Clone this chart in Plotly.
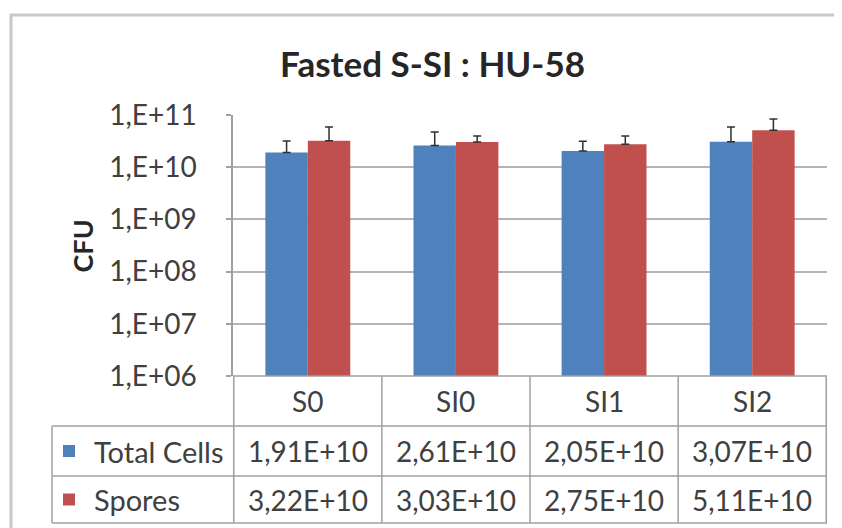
import plotly.graph_objects as go

# Data
categories = ["S0", "SI0", "SI1", "SI2"]
total_cells = [1.91e10, 2.61e10, 2.05e10, 3.07e10]
spores = [3.22e10, 3.03e10, 2.75e10, 5.11e10]
# upper error bars
total_cells_err = [1.25e10, 2.1e10, 1.1e10, 2.8e10]
spores_err = [2.65e10, 0.93e10, 1.2e10, 3.3e10]
y_ticks = [1e6, 1e7, 1e8, 1e9, 1e10, 1e11]
y_tick_labels = ["1,E+06", "1,E+07", "1,E+08", "1,E+09", "1,E+10", "1,E+11"]

BLUE = "#4F81BD"
RED = "#C0504D"
TEXT = "#404040"
GRID = "#b4b4b4"
TABLE_LINE = "#a0a0a0"
FONT = "Lato, sans-serif"

# page is 842x528, the body keeps an 8px margin around the figure
OFF = 8
W, H = 842 - 2 * OFF, 528 - OFF


def px(x):
    return (x - OFF) / W


def py(y):
    return 1 - (y - OFF) / H


def excel_sci(v):
    # 1.91e10 -> "1,91E+10"
    mant, exp = f"{v:.2E}".split("E")
    return f"{mant.replace('.', ',')}E+{int(exp):02d}"


fig = go.Figure()

fig.add_trace(go.Bar(
    x=categories, y=total_cells, name="Total Cells",
    marker=dict(color=BLUE, line=dict(width=0)),
    error_y=dict(type="data", array=total_cells_err, arrayminus=[0] * 4,
                 symmetric=False, color="#303030", thickness=1.5, width=4),
))
fig.add_trace(go.Bar(
    x=categories, y=spores, name="Spores",
    marker=dict(color=RED, line=dict(width=0)),
    error_y=dict(type="data", array=spores_err, arrayminus=[0] * 4,
                 symmetric=False, color="#303030", thickness=1.5, width=4),
))

# plot area in page pixels
x_left, x_right = 233, 827
y_top, y_bottom = 115, 376
row1, row2, row3 = 426, 476, 523
table_left = 52

fig.update_layout(
    template="none",
    width=W, height=H,
    margin=dict(l=0, r=0, t=0, b=0, pad=0),
    paper_bgcolor="white",
    plot_bgcolor="white",
    barmode="group",
    bargap=0.427,
    bargroupgap=0,
    showlegend=False,
    font=dict(family=FONT, color=TEXT),
    xaxis=dict(
        domain=[px(x_left), px(x_right)],
        showticklabels=False, showgrid=False, zeroline=False,
        showline=False, ticks="", automargin=False,
    ),
    yaxis=dict(
        domain=[py(y_bottom), py(y_top)],
        type="log", range=[6, 11],
        tickvals=y_ticks, ticktext=y_tick_labels,
        tickfont=dict(size=28, color=TEXT, family=FONT),
        ticks="outside", ticklen=5, tickcolor=TABLE_LINE, tickwidth=1.5,
        ticklabelstandoff=24,
        showgrid=True, gridcolor=GRID, gridwidth=1.5,
        showline=True, linecolor=TABLE_LINE, linewidth=1.5,
        zeroline=False, automargin=False,
    ),
)

shapes = []
# outer chart border
shapes.append(dict(type="rect", xref="paper", yref="paper",
                   x0=px(11), x1=px(900), y0=py(600), y1=py(15),
                   line=dict(color="#c8c8c8", width=3)))

# data table horizontal lines
for y, x0 in [(y_bottom, x_left), (row1, table_left), (row2, table_left), (row3, table_left)]:
    shapes.append(dict(type="line", xref="paper", yref="paper",
                       x0=px(x0), x1=px(x_right), y0=py(y), y1=py(y),
                       line=dict(color=TABLE_LINE, width=1.5)))
# vertical lines at category boundaries
for i in range(len(categories) + 1):
    shapes.append(dict(type="line", xref="x", yref="paper",
                       x0=i - 0.5, x1=i - 0.5, y0=py(row3), y1=py(y_bottom),
                       line=dict(color=TABLE_LINE, width=1.5)))
shapes.append(dict(type="line", xref="paper", yref="paper",
                   x0=px(table_left), x1=px(table_left), y0=py(row3), y1=py(row1),
                   line=dict(color=TABLE_LINE, width=1.5)))

# legend keys inside the table
for color, yc in [(BLUE, (row1 + row2) / 2), (RED, (row2 + row3) / 2)]:
    shapes.append(dict(type="rect", xref="paper", yref="paper",
                       x0=px(63), x1=px(75), y0=py(yc + 6), y1=py(yc - 6),
                       fillcolor=color, line=dict(width=0)))

fig.update_layout(shapes=shapes)

annotations = []
# title
annotations.append(dict(text="<b>Fasted S-SI : HU-58</b>", xref="paper", yref="paper",
                        x=px(432), y=py(63), yanchor="middle", showarrow=False,
                        font=dict(size=35, color="#262626", family=FONT)))
# y axis title
annotations.append(dict(text="<b>CFU</b>", xref="paper", yref="paper",
                        x=px(64), y=py(246), yanchor="middle", showarrow=False,
                        textangle=-90,
                        font=dict(size=27, color="#262626", family=FONT)))

# category header row
for cat in categories:
    annotations.append(dict(text=cat, xref="x", yref="paper", x=cat,
                            y=py((y_bottom + row1) / 2), yanchor="middle",
                            showarrow=False,
                            font=dict(size=28, color=TEXT, family=FONT)))

# series rows
for name, vals, yc in [("Total Cells", total_cells, (row1 + row2) / 2),
                       ("Spores", spores, (row2 + row3) / 2)]:
    annotations.append(dict(text=name, xref="paper", yref="paper", x=px(92),
                            y=py(yc), xanchor="left", yanchor="middle",
                            showarrow=False,
                            font=dict(size=29, color=TEXT, family=FONT)))
    for cat, v in zip(categories, vals):
        annotations.append(dict(text=excel_sci(v), xref="x", yref="paper", x=cat,
                                y=py(yc), yanchor="middle", showarrow=False,
                                font=dict(size=28, color=TEXT, family=FONT)))

fig.update_layout(annotations=annotations)

fig.write_html("out.html")
